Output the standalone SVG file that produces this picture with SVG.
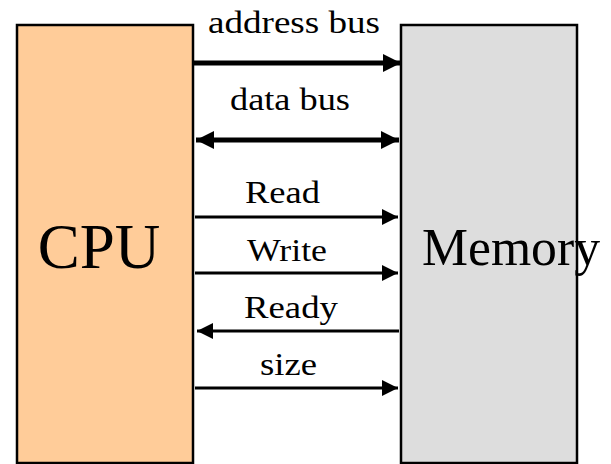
<svg xmlns="http://www.w3.org/2000/svg" width="611" height="464" viewBox="0 0 611 464">
  <style>
    .box { stroke: #000; stroke-width: 2.5; }
    .lbl { font-family: "Liberation Serif", "Times New Roman", serif; font-size: 32px; fill: #000; text-anchor: middle; }
    .big { font-family: "Liberation Serif", "Times New Roman", serif; fill: #000; }
    .bus { stroke: #000; stroke-width: 5; fill: none; }
    .sig { stroke: #000; stroke-width: 3; fill: none; }
  </style>
  <defs>
    <marker id="headBus" markerUnits="userSpaceOnUse" markerWidth="20" markerHeight="20" refX="18" refY="9" orient="auto-start-reverse">
      <path d="M0,0 L18,9 L0,18 Z" fill="#000"/>
    </marker>
    <marker id="headSig" markerUnits="userSpaceOnUse" markerWidth="18" markerHeight="18" refX="16" refY="8" orient="auto-start-reverse">
      <path d="M0,0 L16,8 L0,16 Z" fill="#000"/>
    </marker>
  </defs>

  <g id="cpu">
    <rect class="box" x="17" y="25" width="176" height="438" fill="#FFCC99"/>
    <text class="big" x="99" y="268" font-size="63" text-anchor="middle">CPU</text>
  </g>

  <g id="memory">
    <rect class="box" x="401" y="25" width="176" height="438" fill="#DDDDDD"/>
    <text class="big" x="422" y="265" font-size="53" textLength="178" lengthAdjust="spacingAndGlyphs">Memory</text>
  </g>

  <g id="connectors">
    <line class="bus" x1="193" y1="63" x2="401" y2="63" marker-end="url(#headBus)"/>
    <line class="bus" x1="196" y1="140" x2="399" y2="140" marker-start="url(#headBus)" marker-end="url(#headBus)"/>
    <line class="sig" x1="195" y1="217" x2="398" y2="217" marker-end="url(#headSig)"/>
    <line class="sig" x1="195" y1="273" x2="398" y2="273" marker-end="url(#headSig)"/>
    <line class="sig" x1="399" y1="331" x2="197" y2="331" marker-end="url(#headSig)"/>
    <line class="sig" x1="195" y1="388" x2="398" y2="388" marker-end="url(#headSig)"/>
  </g>

  <g id="labels">
    <text class="lbl" x="294" y="33" textLength="172" lengthAdjust="spacingAndGlyphs">address bus</text>
    <text class="lbl" x="290" y="110" textLength="120" lengthAdjust="spacingAndGlyphs">data bus</text>
    <text class="lbl" x="282.5" y="203" textLength="75" lengthAdjust="spacingAndGlyphs">Read</text>
    <text class="lbl" x="287" y="261" textLength="80" lengthAdjust="spacingAndGlyphs">Write</text>
    <text class="lbl" x="291" y="318" textLength="94" lengthAdjust="spacingAndGlyphs">Ready</text>
    <text class="lbl" x="288.5" y="375" textLength="57" lengthAdjust="spacingAndGlyphs">size</text>
  </g>
</svg>
